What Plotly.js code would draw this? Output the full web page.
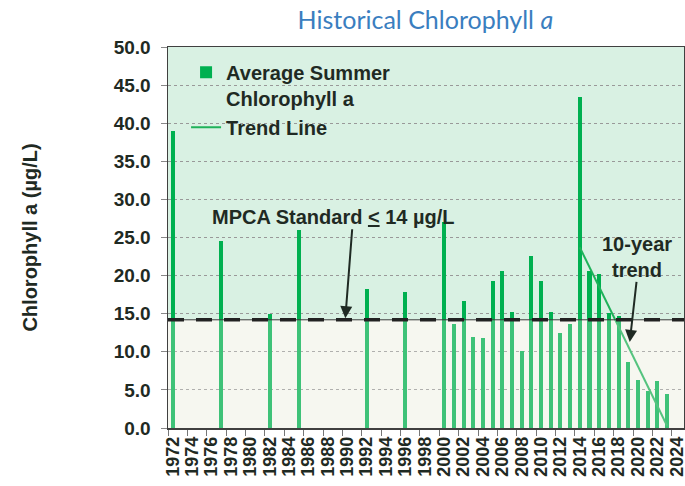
<!DOCTYPE html>
<html>
<head>
<meta charset="utf-8">
<script src="https://cdn.plot.ly/plotly-3.0.1.min.js"></script>
<style>html,body{margin:0;padding:0;background:#fff}#chart{width:685px;height:486px}</style>
</head>
<body>
<div id="chart"></div>
<script>
// ---- data ----
const years = [1972, 1977, 1982, 1985, 1992, 1996, 2000, 2001, 2002, 2003, 2004, 2005, 2006, 2007, 2008, 2009, 2010, 2011, 2012, 2013, 2014, 2015, 2016, 2017, 2018, 2019, 2020, 2021, 2022, 2023];
const chlA   = [39.0, 24.5, 15.0, 26.0, 18.2, 17.9, 27.0, 13.6, 16.7, 11.9, 11.8, 19.3, 20.6, 15.2, 10.1, 22.6, 19.3, 15.2, 12.5, 13.7, 43.4, 20.6, 20.2, 15.1, 14.7, 8.6, 6.3, 4.8, 6.2, 4.5];
const trendYears  = [2014, 2023];
const trendValues = [23.7, 0.3];
const standardValue = 14.2;
const xTickYears = [1972,1974,1976,1978,1980,1982,1984,1986,1988,1990,1992,1994,1996,1998,2000,2002,2004,2006,2008,2010,2012,2014,2016,2018,2020,2022,2024];
const xTickLabels = xTickYears.map(String);
const yTickVals = [0,5,10,15,20,25,30,35,40,45,50];

const FONT = '"Liberation Sans", Arial, sans-serif';
const TXT = '#1f2a23';

const traces = [
  {
    type: 'bar', x: years, y: chlA, width: 0.42,
    name: 'Average Summer<br>Chlorophyll a',
    marker: {color: '#00b050', line: {width: 0}},
    hoverinfo: 'x+y'
  },
  {
    type: 'scatter', mode: 'lines', x: trendYears, y: trendValues,
    name: 'Trend Line',
    line: {color: '#1fb25a', width: 2}
  }
];

const layout = {
  width: 685, height: 486,
  margin: {l: 168, r: 1, t: 47, b: 58},
  paper_bgcolor: '#ffffff',
  plot_bgcolor: '#f6f7f1',
  font: {family: FONT, color: TXT},
  title: {
    text: 'Historical Chlorophyll <i>a</i>',
    font: {family: 'Lato, "Open Sans", sans-serif', size: 25, color: '#3a7ebf', weight: 400},
    x: 0.621, xanchor: 'center', xref: 'container',
    y: 0.976, yanchor: 'top'
  },
  showlegend: true,
  legend: {
    x: 0.035, y: 0.985, xanchor: 'left', yanchor: 'top',
    bgcolor: 'rgba(0,0,0,0)', borderwidth: 0,
    font: {family: FONT, size: 20, color: TXT, weight: 700},
    valign: 'top', tracegroupgap: 0
  },
  bargap: 0,
  xaxis: {
    type: 'linear', range: [1971.5, 2024.75],
    tickmode: 'array', tickvals: xTickYears, ticktext: xTickLabels,
    tickangle: -90, ticks: '', ticklabeloverflow: 'allow',
    tickfont: {family: FONT, size: 18, color: TXT, weight: 700},
    minor: {tick0: 1971.5, dtick: 2, ticks: 'outside', ticklen: 6, tickcolor: '#777', tickwidth: 1},
    showgrid: false, zeroline: false,
    showline: true, mirror: true, linecolor: '#404040', linewidth: 1.5,
    fixedrange: true
  },
  yaxis: {
    range: [0, 50], tickmode: 'array', tickvals: yTickVals,
    tickformat: '.1f',
    ticks: 'outside', ticklen: 6, tickcolor: '#888', tickwidth: 1,
    ticklabelstandoff: 6,
    tickfont: {family: FONT, size: 19, color: TXT, weight: 700},
    showgrid: true, gridcolor: '#999999', gridwidth: 1, griddash: '3px,3px',
    zeroline: false,
    showline: true, mirror: true, linecolor: '#404040', linewidth: 1.5,
    title: {text: 'Chlorophyll a (µg/L)', standoff: 70, font: {family: FONT, size: 20, color: TXT, weight: 700}},
    fixedrange: true
  },
  shapes: [
    {type: 'rect', xref: 'paper', yref: 'y', x0: 0, x1: 1, y0: standardValue, y1: 50, fillcolor: '#d9f1e3', line: {width: 0}, layer: 'below'},
    {type: 'rect', xref: 'paper', yref: 'y', x0: 0, x1: 1, y0: 0, y1: standardValue, fillcolor: 'rgba(246,247,241,0.25)', line: {width: 0}, layer: 'above'},
    {type: 'line', xref: 'paper', yref: 'y', x0: 0, x1: 1, y0: standardValue, y1: standardValue, line: {color: '#3a3a3a', width: 1}, layer: 'above'},
    {type: 'line', xref: 'paper', yref: 'y', x0: 0, x1: 1, y0: standardValue, y1: standardValue, line: {color: '#222222', width: 3.5, dash: '16px,12px'}, layer: 'above'}
  ],
  annotations: [
    {xref: 'x', yref: 'y', x: 1988.6, y: 27.7, xanchor: 'center', yanchor: 'middle', showarrow: false,
     text: 'MPCA Standard <u>&lt;</u> 14 µg/L', font: {family: FONT, size: 20, color: TXT, weight: 700}},
    {xref: 'x', yref: 'y', x: 1989.8, y: 14.4, ax: 7, ay: -91, showarrow: true, text: ' ', font: {size: 1},
     arrowhead: 2, arrowsize: 1.2, arrowwidth: 2, arrowcolor: '#1f2a23'},
    {xref: 'x', yref: 'y', x: 2019.9, y: 22.4, xanchor: 'center', yanchor: 'middle', showarrow: false,
     text: '10-year<br>trend', font: {family: FONT, size: 20, color: TXT, weight: 700}},
    {xref: 'x', yref: 'y', x: 2019.15, y: 11.3, ax: 7, ay: -62, showarrow: true, text: ' ', font: {size: 1},
     arrowhead: 2, arrowsize: 1.2, arrowwidth: 2, arrowcolor: '#1f2a23'}
  ]
};

Plotly.newPlot('chart', traces, layout, {displayModeBar: false, staticPlot: true});
</script>
</body>
</html>
